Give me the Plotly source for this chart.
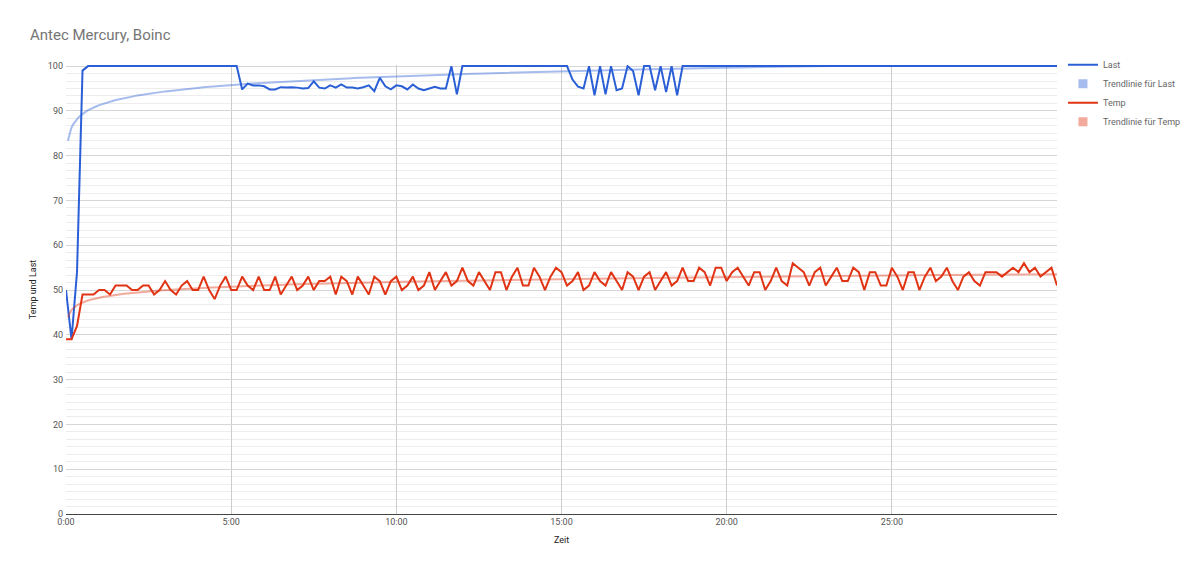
import numpy as np
import plotly.graph_objects as go

# ---- data (one sample every 10 s, time in minutes) ----
temp = [39,39,42,49,49,49,50,50,49,51,
        51,51,50,50,51,51,49,50,52,50,
        49,51,52,50,50,53,50,48,51,53,
        50,50,53,51,50,53,50,50,53,49,
        51,53,50,51,53,50,52,52,53,49,
        53,52,49,53,51,49,53,52,49,52,
        53,50,51,53,50,51,54,50,52,54,
        51,52,55,52,51,54,52,50,54,54,
        50,53,55,51,51,55,53,50,53,55,
        54,51,52,54,50,51,54,52,51,54,
        52,50,54,53,50,53,54,50,52,54,
        51,52,55,52,52,55,54,51,55,55,
        52,54,55,53,51,54,54,50,52,55,
        52,51,56,55,54,51,54,55,51,53,
        55,52,52,55,54,50,54,54,51,51,
        55,53,50,54,54,50,53,55,52,53,
        55,52,50,53,54,52,51,54,54,54,
        53,54,55,54,56,54,55,53,54,55,51]

last = ([50, 39, 54, 99] + [100]*28 +
        [94.8,96.1,95.7,95.7,95.5,94.8,94.8,95.3,95.2,95.3,
         95.2,95.0,95.1,96.6,95.2,95.0,95.7,95.2,95.9,95.2,
         95.2,95.0,95.3,95.7,94.4,97.4,95.5,94.8,95.7,95.5,
         94.8,95.9,95.0,94.6,95.0,95.4,95.0,95.0,100,93.7] +
        [100]*20 +
        [97.0,95.4,95.0,100,93.5,100,93.7,100,94.6,95.0,
         100,98.9,93.5,100,100,94.6,100,94.2,100,93.5] +
        [100]*69)

sample_minutes = 1/6
t = np.arange(len(temp)) * sample_minutes

x_tickvals = [0, 5, 10, 15, 20, 25]
x_ticktext = ["0:00", "5:00", "10:00", "15:00", "20:00", "25:00"]
y_tickvals = list(range(0, 101, 10))

title = "Antec Mercury, Boinc"
names = ["Last", "Trendlinie für Last", "Temp", "Trendlinie für Temp"]

BLUE = "#2a5fd6"
RED = "#e03414"
BLUE_T = "rgba(42,95,214,0.42)"
RED_T = "rgba(224,52,20,0.42)"


def log_trend(x, y):
    x = np.asarray(x, float)
    y = np.asarray(y, float)
    m = x > 0
    a, b = np.polyfit(np.log(x[m]), y[m], 1)
    xs = np.linspace(x[m][0] * 0.35, x[-1], 600)
    return xs, a * np.log(xs) + b


tl_x, tl_y = log_trend(t, last)
tt_x, tt_y = log_trend(t, temp)

fig = go.Figure()
fig.add_trace(go.Scatter(x=t, y=last, mode="lines", name=names[0],
                         line=dict(color=BLUE, width=2)))
fig.add_trace(go.Scatter(x=tl_x, y=tl_y, mode="lines", name=names[1],
                         line=dict(color=BLUE_T, width=2), showlegend=False))
fig.add_trace(go.Scatter(x=[None], y=[None], mode="markers", name=names[1],
                         marker=dict(symbol="square", size=9, color=BLUE_T)))
fig.add_trace(go.Scatter(x=t, y=temp, mode="lines", name=names[2],
                         line=dict(color=RED, width=2)))
fig.add_trace(go.Scatter(x=tt_x, y=tt_y, mode="lines", name=names[3],
                         line=dict(color=RED_T, width=2), showlegend=False))
fig.add_trace(go.Scatter(x=[None], y=[None], mode="markers", name=names[3],
                         marker=dict(symbol="square", size=9, color=RED_T)))

# page body has an 8px margin: size the figure to fit inside the window
W, H = 1192, 566
fig.update_layout(
    width=W, height=H,
    paper_bgcolor="white", plot_bgcolor="white",
    font=dict(family="Roboto, Arial, sans-serif", size=10, color="#444"),
    margin=dict(l=58, r=143, t=57, b=60, autoexpand=False),
    title=dict(text=title, x=22/W, xref="container", xanchor="left",
               y=1-27/H, yref="container", yanchor="middle",
               font=dict(size=15, color="#757575")),
    legend=dict(x=1.006, xanchor="left", y=1.033, yanchor="top",
                font=dict(size=9, color="#666"), itemwidth=30,
                tracegroupgap=0, bgcolor="rgba(0,0,0,0)"),
    showlegend=True,
    hovermode=False,
)

fig.update_xaxes(range=[0, t[-1]], tickvals=x_tickvals, ticktext=x_ticktext,
                 showgrid=True, gridcolor="#cccccc", gridwidth=1,
                 zeroline=False, showline=False, ticks="", automargin=False,
                 ticklabelstandoff=1,
                 tickfont=dict(size=9, color="#555"),
                 title=dict(text="Zeit", font=dict(size=9, color="#222"), standoff=10))

fig.update_yaxes(range=[0, 100.25], tickvals=y_tickvals,
                 showgrid=True, gridcolor="#d6d6d6", gridwidth=1,
                 minor=dict(dtick=10/6, tick0=0, showgrid=True, gridcolor="#ededed", gridwidth=1),
                 zeroline=True, zerolinecolor="#444", zerolinewidth=1,
                 showline=False, ticks="", automargin=False,
                 ticklabelstandoff=2,
                 tickfont=dict(size=9, color="#555"),
                 title=dict(text="Temp und Last", font=dict(size=9, color="#222"), standoff=9))

fig.write_html("out.html")
